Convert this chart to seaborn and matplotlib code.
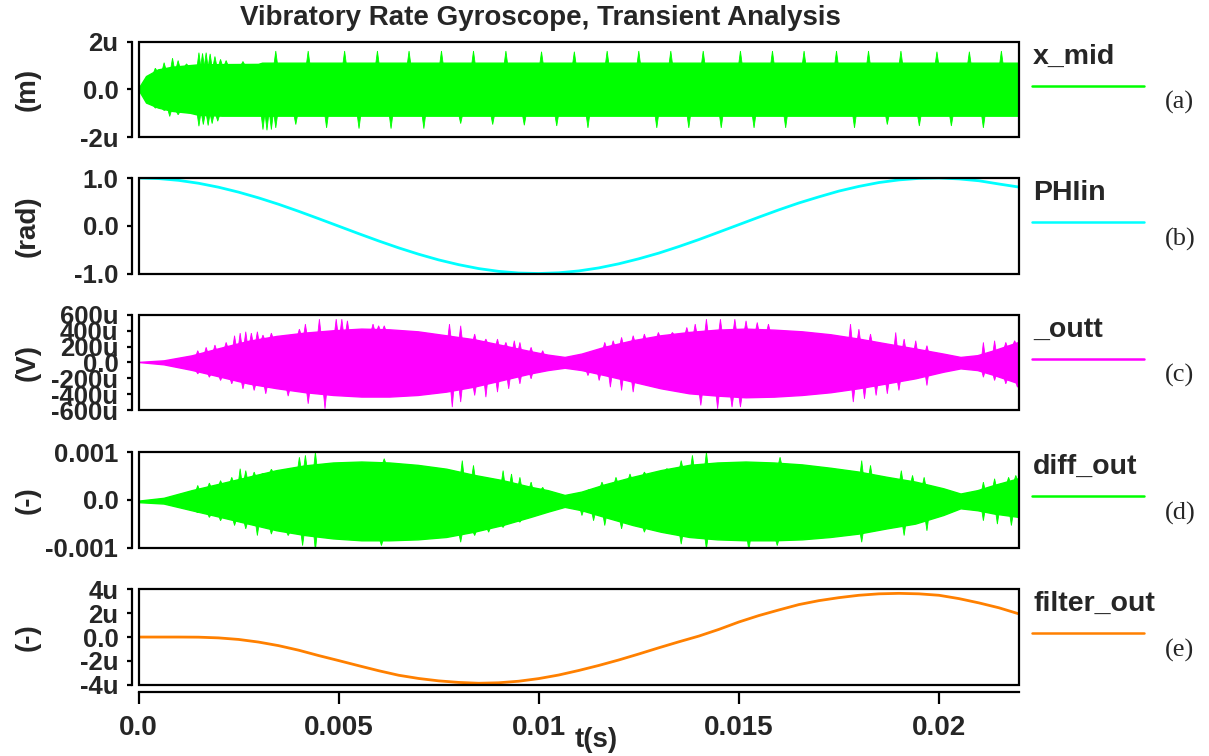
import numpy as np
import matplotlib
matplotlib.use("Agg")
import matplotlib.pyplot as plt
import seaborn as sns
from matplotlib.patches import Rectangle
from matplotlib.lines import Line2D

# ---------------- data ----------------
title = "Vibratory Rate Gyroscope, Transient Analysis"
signal_names = ["x_mid", "PHIin", "_outt", "diff_out", "filter_out"]
panel_tags = ["(a)", "(b)", "(c)", "(d)", "(e)"]
unit_labels = ["(m)", "(rad)", "(V)", "(-)", "(-)"]
colors = ["#00ff00", "#00ffff", "#ff00ff", "#00ff00", "#ff8000"]

x_ticks = [0.0, 0.005, 0.01, 0.015, 0.02]
x_tick_labels = ["0.0", "0.005", "0.01", "0.015", "0.02"]
x_label = "t(s)"
t_max = 0.022

y_ticks = [
    [-2e-6, 0.0, 2e-6],
    [-1.0, 0.0, 1.0],
    [-600e-6, -400e-6, -200e-6, 0.0, 200e-6, 400e-6, 600e-6],
    [-0.001, 0.0, 0.001],
    [-4e-6, -2e-6, 0.0, 2e-6, 4e-6],
]
y_tick_labels = [
    ["-2u", "0.0", "2u"],
    ["-1.0", "0.0", "1.0"],
    ["-600u", "-400u", "-200u", "0.0", "200u", "400u", "600u"],
    ["-0.001", "0.0", "0.001"],
    ["-4u", "-2u", "0.0", "2u", "4u"],
]

# (a) x_mid envelope, time in ms, values in micro-metres
a_t = [0, 0.2, 0.5, 0.85, 1.3, 1.5, 2.1, 3.0, 3.1, 22.0]
a_up = [0, 0.54, 0.82, 0.93, 1.0, 1.03, 1.04, 1.05, 1.1, 1.1]
a_lo = [0, -0.57, -0.78, -0.92, -1.0, -1.08, -1.12, -1.12, -1.12, -1.12]
a_up_spk_t = [0.42, 0.64, 0.85, 0.99, 1.20, 1.51, 1.60, 1.69, 1.79, 1.91, 2.05, 2.19, 2.61,
              3.43, 4.24, 5.15, 5.97, 6.76, 7.57, 8.37, 9.18, 10.07, 10.89, 11.71, 12.50,
              13.30, 14.11, 15.04, 15.84, 16.63, 17.44, 18.24, 19.05, 19.95, 20.76, 21.56]
a_up_spk_v = [0.89, 1.12, 1.31, 1.21, 1.07, 1.54, 1.51, 1.54, 1.49, 1.38, 1.26, 1.21, 1.17,
              1.61, 1.61, 1.61, 1.61, 1.61, 1.61, 1.61, 1.61, 1.58, 1.58, 1.61, 1.61,
              1.61, 1.61, 1.61, 1.61, 1.61, 1.61, 1.61, 1.61, 1.58, 1.58, 1.61]
a_lo_spk_t = [0.42, 0.64, 0.78, 0.99, 1.51, 1.62, 1.74, 1.84, 1.98, 3.11, 3.21, 3.32, 3.43,
              3.93, 4.70, 5.51, 6.31, 7.13, 8.05, 8.85, 9.64, 10.45, 11.23, 12.95, 13.75,
              14.56, 15.38, 16.17, 17.89, 18.71, 19.51, 20.31, 21.11]
a_lo_spk_v = [-0.78, -0.88, -1.13, -1.06, -1.54, -1.47, -1.51, -1.43, -1.33, -1.68, -1.71, -1.68, -1.61,
              -1.47, -1.61, -1.64, -1.64, -1.64, -1.43, -1.47, -1.50, -1.53, -1.61, -1.61, -1.61,
              -1.61, -1.61, -1.61, -1.61, -1.47, -1.53, -1.53, -1.61]

# (b) PHIin, time in ms, radians
b_t = [0, 0.5, 1, 1.5, 2, 2.5, 3, 3.5, 4, 4.5, 5, 5.5, 6, 6.5, 7, 7.5, 8, 8.5, 9, 9.5, 10,
       10.5, 11, 11.5, 12, 12.5, 13, 13.5, 14, 14.5, 15, 15.5, 16, 16.5, 17, 17.5, 18, 18.5,
       19, 19.5, 20, 20.5, 21, 21.5, 22]
b_v = [1.0, 0.988, 0.951, 0.890, 0.807, 0.704, 0.584, 0.450, 0.303, 0.149, -0.008, -0.165,
       -0.318, -0.463, -0.596, -0.715, -0.815, -0.897, -0.955, -0.990, -1.0, -0.985, -0.946,
       -0.883, -0.797, -0.692, -0.573, -0.436, -0.290, -0.134, 0.023, 0.180, 0.333, 0.477,
       0.605, 0.726, 0.824, 0.905, 0.960, 0.992, 1.0, 0.981, 0.942, 0.874, 0.81]

# common envelope time grid for (c) and (d), ms
cd_t = [0, 0.64, 1.34, 2.05, 2.75, 3.46, 4.17, 4.87, 5.58, 6.28, 6.99, 7.70, 8.40, 9.11, 9.81,
        10.24, 10.66, 11.08, 11.65, 12.36, 13.06, 13.77, 14.47, 15.18, 15.89, 16.59, 17.30,
        18.00, 18.71, 19.42, 20.12, 20.55, 20.97, 21.39, 22.0]

# (c) _outt envelope, micro-volts
c_up = [0, 20, 83, 177, 265, 327, 369, 398, 419, 410, 385, 335, 285, 210, 135, 92, 63, 105, 190,
        273, 335, 377, 406, 419, 406, 385, 348, 294, 231, 169, 105, 63, 85, 148, 252]
c_lo = [0, -30, -100, -185, -270, -330, -380, -415, -435, -435, -415, -373, -310, -227, -144, -102,
        -73, -102, -165, -248, -331, -394, -423, -444, -436, -415, -381, -331, -269, -206, -123,
        -81, -102, -165, -269]
c_up_spk_t = [1.48, 1.69, 1.91, 2.19, 2.40, 2.54, 2.68, 2.82, 2.97, 3.11, 3.32, 4.02, 4.17, 4.52,
              4.94, 5.08, 5.22, 5.86, 6.00, 6.14, 7.77, 8.05, 8.40, 8.68, 8.97, 9.18, 9.39, 9.53,
              9.81, 10.10, 11.65, 11.86, 12.07, 12.36, 12.64, 12.99, 13.34, 13.70, 13.91, 14.19,
              14.54, 14.90, 15.18, 15.46, 15.74, 17.79, 18.00, 18.29, 18.92, 19.13, 19.42, 19.70,
              21.11, 21.39, 21.67, 21.89]
c_up_spk_v = [148, 190, 219, 252, 336, 369, 386, 369, 386, 344, 369, 419, 482, 544,
              544, 544, 523, 482, 461, 461, 482, 461, 357, 294, 294, 252, 273, 252,
              190, 148, 252, 273, 315, 336, 357, 377, 377, 440, 482, 544,
              544, 544, 523, 502, 482, 482, 419, 357, 377, 294, 273, 211,
              252, 273, 252, 273]
c_lo_spk_t = [1.48, 1.77, 2.05, 2.33, 2.61, 2.89, 3.18, 3.74, 4.24, 4.66, 7.84, 8.05, 8.40, 8.68,
              8.97, 9.25, 9.53, 9.81, 11.23, 11.51, 11.79, 12.07, 12.36, 14.05, 14.47, 14.83,
              15.04, 17.86, 18.14, 18.43, 18.71, 19.00, 19.70, 21.11, 21.39, 21.67, 21.96]
c_lo_spk_v = [-144, -186, -227, -269, -332, -352, -394, -423, -519, -582, -561, -498, -415, -436,
              -373, -332, -269, -206, -165, -227, -311, -352, -373, -540, -582, -561,
              -561, -498, -457, -415, -394, -352, -290, -186, -227, -269, -311]

# (d) diff_out envelope, units of 1e-3
d_up = [-0.03, 0.03, 0.19, 0.33, 0.47, 0.61, 0.71, 0.77, 0.79, 0.77, 0.72, 0.64, 0.51, 0.40, 0.26,
        0.19, 0.09, 0.16, 0.31, 0.47, 0.61, 0.72, 0.77, 0.79, 0.77, 0.73, 0.66, 0.58, 0.47, 0.37,
        0.23, 0.12, 0.19, 0.30, 0.44]
d_lo = [-0.06, -0.09, -0.23, -0.37, -0.51, -0.65, -0.75, -0.82, -0.86, -0.86, -0.84, -0.79, -0.68,
        -0.54, -0.37, -0.26, -0.16, -0.23, -0.37, -0.54, -0.68, -0.79, -0.84, -0.86, -0.86, -0.84,
        -0.79, -0.72, -0.61, -0.51, -0.33, -0.19, -0.23, -0.30, -0.37]
d_up_spk_t = [1.48, 1.77, 2.05, 2.33, 2.54, 2.68, 2.89, 3.11, 3.32, 4.02, 4.17, 4.42, 6.14, 8.09,
              8.37, 9.11, 9.32, 9.53, 9.81, 10.10, 11.23, 11.58, 11.93, 12.28, 12.64, 13.20,
              13.56, 13.84, 14.19, 16.03, 18.07, 18.29, 19.06, 19.34, 19.63, 21.11, 21.39, 21.74,
              21.92]
d_up_spk_v = [0.30, 0.35, 0.40, 0.47, 0.65, 0.61, 0.58, 0.54, 0.64, 0.89, 0.93, 1.00, 0.86, 0.82,
              0.72, 0.61, 0.54, 0.47, 0.37, 0.26, 0.19, 0.37, 0.47, 0.54, 0.58, 0.65,
              0.82, 0.93, 1.00, 0.89, 0.82, 0.72, 0.61, 0.51, 0.47, 0.37, 0.44, 0.47,
              0.51]
d_lo_spk_t = [1.48, 1.77, 2.05, 2.40, 2.68, 2.97, 3.32, 3.74, 4.10, 4.42, 6.07, 8.05, 8.40, 8.75,
              9.11, 9.53, 11.08, 11.37, 11.65, 12.07, 12.64, 13.56, 14.19, 15.25, 15.96, 18.07,
              19.13, 19.70, 21.11, 21.46, 21.81]
d_lo_spk_v = [-0.26, -0.37, -0.44, -0.54, -0.61, -0.75, -0.72, -0.75, -0.96, -1.07, -0.96, -0.89,
              -0.75, -0.68, -0.58, -0.47, -0.33, -0.44, -0.54, -0.61, -0.68, -0.93, -1.03, -1.07,
              -0.96, -0.89, -0.75, -0.65, -0.44, -0.51, -0.54]

# (e) filter_out, time in ms, micro-units
e_t = [0, 0.5, 1, 1.5, 2, 2.5, 3, 3.5, 4, 4.5, 5, 5.5, 6, 6.5, 7, 7.5, 8, 8.5, 9, 9.5, 10,
       10.5, 11, 11.5, 12, 12.5, 13, 13.5, 14, 14.5, 15, 15.5, 16, 16.5, 17, 17.5, 18, 18.5,
       19, 19.5, 20, 20.5, 21, 21.5, 22]
e_v = [0, 0, 0, -0.01, -0.07, -0.2, -0.42, -0.72, -1.1, -1.55, -1.97, -2.4, -2.82, -3.2,
       -3.47, -3.67, -3.8, -3.87, -3.83, -3.7, -3.48, -3.18, -2.8, -2.38, -1.92, -1.42, -0.9,
       -0.4, 0.08, 0.64, 1.26, 1.8, 2.27, 2.72, 3.05, 3.3, 3.5, 3.62, 3.66, 3.62, 3.5, 3.22,
       2.86, 2.45, 1.94]

# ---------------- styling / layout ----------------
sns.set_theme(style="white")
plt.rcParams["font.family"] = ["Liberation Sans", "DejaVu Sans"]
plt.rcParams["font.weight"] = "bold"

W, H = 1209, 756
fig = plt.figure(figsize=(W / 100, H / 100), dpi=100)
fig.patch.set_facecolor("white")

left_px, right_px = 138.5, 1019.0
tops_px = [41.7, 178.0, 314.7, 452.0, 589.3]
height_px = 95.5

def fx(px):
    return px / W

def fy(py):
    return 1 - py / H

ms = 1e-3

def envelope_fill(ax, t, up, lo, up_spk_t, up_spk_v, lo_spk_t, lo_spk_v, scale, color, w=0.035):
    t = np.asarray(t) * ms
    up = np.asarray(up) * scale
    lo = np.asarray(lo) * scale
    xs = np.concatenate([t, t[::-1]])
    ys = np.concatenate([up, lo[::-1]])
    ax.fill(xs, ys, color=color, lw=1.0, ec=color, zorder=2)
    for st_, sv_, env in ((up_spk_t, up_spk_v, up), (lo_spk_t, lo_spk_v, lo)):
        for ts, vs in zip(st_, sv_):
            ts = ts * ms
            tt = np.array([ts - w * ms, ts, ts + w * ms])
            base = np.interp(tt, t, env)
            ax.fill(tt, [base[0], vs * scale, base[2]], color=color, lw=0.6, ec=color, zorder=2)

axes = []
for i in range(5):
    top = tops_px[i]
    ax = fig.add_axes([fx(left_px), fy(top + height_px), fx(right_px - left_px), height_px / H])
    axes.append(ax)
    ax.set_facecolor("white")
    ax.set_xlim(0, t_max)
    ax.set_ylim(y_ticks[i][0], y_ticks[i][-1])
    ax.add_patch(Rectangle((0, 0), 1, 1, transform=ax.transAxes, fill=False,
                           lw=1.6, ec="black", zorder=5, clip_on=False))
    for s in ["top", "right", "bottom"]:
        ax.spines[s].set_visible(False)
    ax.spines["left"].set_position(("outward", 5))
    ax.spines["left"].set_color("black")
    ax.spines["left"].set_linewidth(1.6)
    ax.set_yticks(y_ticks[i])
    ax.set_yticklabels(y_tick_labels[i], fontsize=18.5, fontweight="bold")
    ax.tick_params(axis="y", direction="out", length=3.5, width=1.6, color="black",
                   pad=6, left=True)
    ax.set_ylabel(unit_labels[i], fontsize=20, fontweight="bold")
    ax.yaxis.set_label_coords((41 - left_px) / (right_px - left_px), 0.5)
    if i < 4:
        ax.set_xticks([])
    else:
        ax.spines["bottom"].set_visible(True)
        ax.spines["bottom"].set_position(("outward", 5.5))
        ax.spines["bottom"].set_color("black")
        ax.spines["bottom"].set_linewidth(1.6)
        ax.set_xticks(x_ticks)
        ax.set_xticklabels(x_tick_labels, fontsize=20, fontweight="bold")
        ax.tick_params(axis="x", direction="out", length=8.5, width=1.6, color="black",
                       pad=8, bottom=True)
    ax.grid(False)

    fig.text(fx(1033), fy(top + 15), signal_names[i], fontsize=20.5, fontweight="bold",
             ha="left", va="center")
    fig.add_artist(Line2D([fx(1032), fx(1144)], [fy(top + 44), fy(top + 44)],
                          color=colors[i], lw=1.8))
    fig.text(fx(1165), fy(top + 61), panel_tags[i], fontsize=19, fontweight="normal",
             family="Liberation Serif", ha="left", va="center")

# (a)
envelope_fill(axes[0], a_t, a_up, a_lo, a_up_spk_t, a_up_spk_v, a_lo_spk_t, a_lo_spk_v,
              1e-6, colors[0], w=0.04)
# (b)
sns.lineplot(x=np.array(b_t) * ms, y=b_v, ax=axes[1], color=colors[1], lw=2.0, zorder=3)
# (c)
envelope_fill(axes[2], cd_t, c_up, c_lo, c_up_spk_t, c_up_spk_v, c_lo_spk_t, c_lo_spk_v,
              1e-6, colors[2])
# (d)
envelope_fill(axes[3], cd_t, d_up, d_lo, d_up_spk_t, d_up_spk_v, d_lo_spk_t, d_lo_spk_v,
              1e-3, colors[3])
# (e)
sns.lineplot(x=np.array(e_t) * ms, y=np.array(e_v) * 1e-6, ax=axes[4], color=colors[4],
             lw=2.0, zorder=3)

for ax in axes:
    ax.set_xlim(0, t_max)
    ax.set_xlabel("")

fig.text(fx(540), fy(18), title, fontsize=20, fontweight="bold", ha="center", va="center")
fig.text(fx(596), fy(740), x_label, fontsize=20, fontweight="bold", ha="center", va="center")

fig.savefig("out.png", dpi=100, facecolor="white")
